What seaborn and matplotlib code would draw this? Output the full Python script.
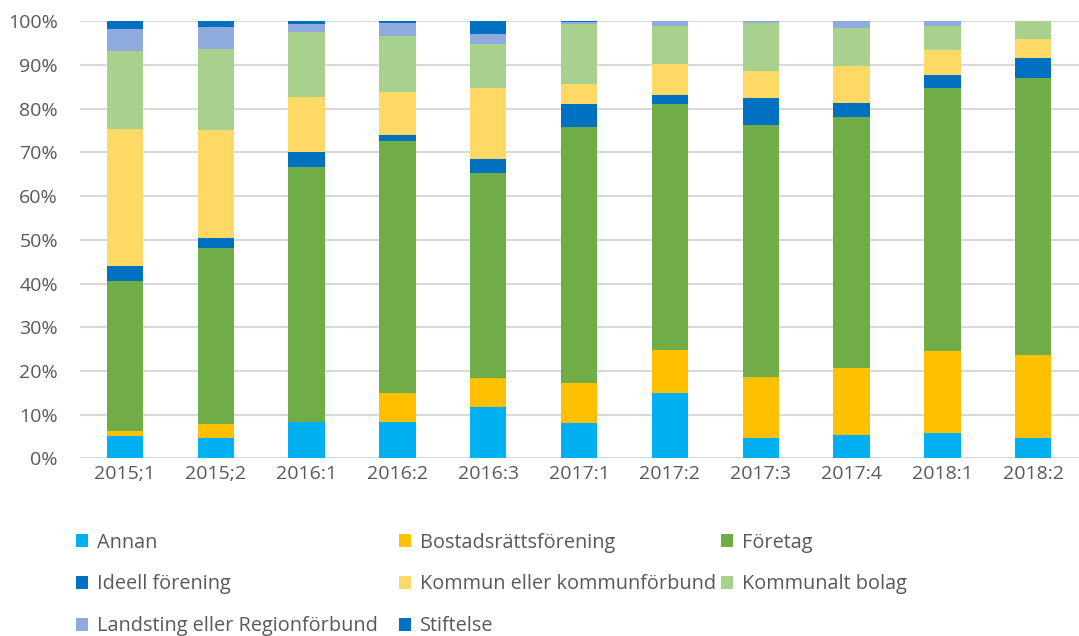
import matplotlib
matplotlib.use("Agg")
import matplotlib.pyplot as plt
import matplotlib.ticker as mtick
import seaborn as sns
import pandas as pd
import numpy as np

periods = ['2015;1', '2015;2', '2016:1', '2016:2', '2016:3', '2017:1',
           '2017:2', '2017:3', '2017:4', '2018:1', '2018:2']

# share (%) per period, bottom to top
annan      = [5.1, 4.7, 8.4, 8.4, 11.8, 8.1, 14.9, 4.7, 5.3, 5.9, 4.7]
bostad     = [1.1, 3.1, 0.0, 6.5, 6.5, 9.1, 9.9, 13.9, 15.3, 18.7, 18.9]
foretag    = [34.4, 40.4, 58.2, 57.6, 46.9, 58.7, 56.2, 57.6, 57.6, 60.1, 63.4]
ideell     = [3.5, 2.1, 3.4, 1.5, 3.2, 5.2, 2.1, 6.2, 3.2, 3.1, 4.5]
kommun     = [31.3, 24.8, 12.7, 9.9, 16.3, 4.5, 7.2, 6.2, 8.4, 5.7, 4.4]
kbolag     = [17.8, 18.6, 14.8, 12.7, 10.2, 13.8, 8.7, 11.1, 8.6, 5.4, 4.1]
landsting  = [5.0, 5.1, 1.8, 3.1, 2.3, 0.4, 1.0, 0.3, 1.6, 1.1, 0.0]
stiftelse  = [1.8, 1.2, 0.7, 0.3, 2.8, 0.2, 0.0, 0.0, 0.0, 0.0, 0.0]

names = ['Annan', 'Bostadsrättsförening', 'Företag', 'Ideell förening',
         'Kommun eller kommunförbund', 'Kommunalt bolag',
         'Landsting eller Regionförbund', 'Stiftelse']
colors = ['#00B0F0', '#FFC000', '#70AD47', '#0070C0',
          '#FFD966', '#A9D18E', '#8FAADC', '#0070C0']

df = pd.DataFrame({'period': periods, 'Annan': annan,
                   'Bostadsrättsförening': bostad, 'Företag': foretag,
                   'Ideell förening': ideell,
                   'Kommun eller kommunförbund': kommun,
                   'Kommunalt bolag': kbolag,
                   'Landsting eller Regionförbund': landsting,
                   'Stiftelse': stiftelse})

sns.set_style('white')
plt.rcParams['font.family'] = ['Open Sans', 'DejaVu Sans']

fig = plt.figure(figsize=(10.79, 6.36), dpi=100)
ax = fig.add_axes([0.0737, 0.2794, 0.926, 0.6871])

# draw cumulative totals from the top series down so the stack shows
cum = df[names].cumsum(axis=1) / 100
for i in range(len(names) - 1, -1, -1):
    sns.barplot(x=df['period'], y=cum[names[i]], color=colors[i],
                width=0.4, linewidth=0, saturation=1, label=names[i], ax=ax,
                zorder=3)

ax.set_ylim(0, 1)
ax.set_xlim(-0.5, 10.5)
ax.yaxis.set_major_locator(mtick.MultipleLocator(0.1))
ax.yaxis.set_major_formatter(mtick.PercentFormatter(1.0, decimals=0))
ax.grid(axis='y', color='#D9D9D9', linewidth=1.5, zorder=0)
ax.set_axisbelow(True)
for s in ax.spines.values():
    s.set_visible(False)
ax.set_xlabel('')
ax.set_ylabel('')
ax.tick_params(axis='both', length=0, labelsize=14, colors='#595959', pad=5)
ax.tick_params(axis='y', pad=15.5)

handles, labels = ax.get_legend_handles_labels()
if ax.get_legend() is not None:
    ax.get_legend().remove()
lookup = dict(zip(labels, handles))
columns = [(0.0705, ['Annan', 'Ideell förening',
                     'Landsting eller Regionförbund']),
           (0.3695, ['Bostadsrättsförening', 'Kommun eller kommunförbund',
                     'Stiftelse']),
           (0.6680, ['Företag', 'Kommunalt bolag'])]
for x0, col in columns:
    fig.legend([lookup[n] for n in col], col, ncol=1,
               loc='upper left', bbox_to_anchor=(x0, 0.1625),
               frameon=False, fontsize=14.3, labelcolor='#595959',
               handlelength=0.6, handleheight=0.6, handletextpad=0.45,
               labelspacing=1.1, borderaxespad=0, borderpad=0)

fig.savefig('out.png', dpi=100)
